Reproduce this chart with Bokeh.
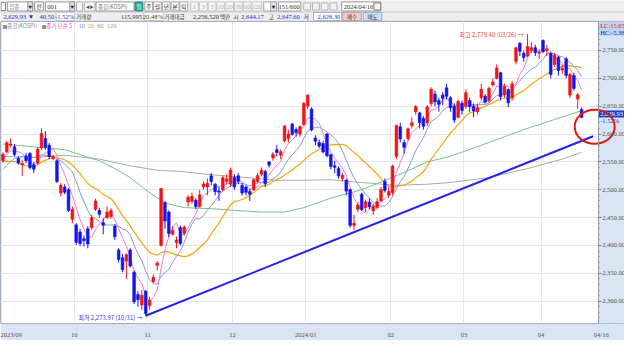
import numpy as np
import pandas as pd
from bokeh.plotting import figure
from bokeh.layouts import column
from bokeh.models import Range1d, FixedTicker, NumeralTickFormatter, ColumnDataSource
from bokeh.core.properties import value
from bokeh.embed import file_html
from bokeh.resources import INLINE

KR = "Noto Sans CJK KR"
NUM = "Liberation Sans Narrow"

# ---------------- data (KOSPI daily, 2023/09/01 - 2024/04/16) ----------------
month_labels = ["2023/09", "10", "11", "12", "2024/01", "02", "03", "04"]
month_start_idx = [0, 19, 38, 60, 79, 101, 120, 140]
last_date_label = "04/16"

aug_closes = [2602.80, 2580.71, 2573.98, 2605.12, 2601.56, 2591.26, 2570.87, 2525.64,
              2519.85, 2504.50, 2508.80, 2515.70, 2505.50, 2537.68, 2519.14, 2543.41,
              2552.16, 2561.22, 2556.27]

opens = [
    2552, 2568, 2580, 2577, 2556, 2545, 2560, 2565, 2545, 2548, 2575, 2592, 2580, 2556, 2552, 2494, 2505, 2500, 2447,
    2437, 2424, 2412, 2430, 2432, 2465, 2463, 2441, 2450, 2452, 2435, 2392, 2378, 2372, 2392, 2352, 2312, 2293, 2318,
    2292, 2335, 2364, 2400, 2477, 2460, 2420, 2405, 2432, 2422, 2478, 2479, 2481, 2470, 2505, 2505, 2525, 2510, 2498, 2500, 2515, 2510,
    2522, 2525, 2508, 2505, 2497, 2500, 2515, 2528, 2533, 2550, 2557, 2572, 2562, 2588, 2592, 2618, 2608, 2600, 2617,
    2650, 2645, 2593, 2585, 2583, 2600, 2563, 2543, 2538, 2520, 2517, 2500, 2436, 2465, 2492, 2468, 2478, 2462, 2468, 2480, 2515, 2490,
    2495, 2560, 2613, 2585, 2592, 2615, 2640, 2638, 2628, 2620, 2655, 2672, 2660, 2670, 2683, 2665, 2650, 2630, 2655,
    2650, 2660, 2650, 2640, 2665, 2668, 2660, 2688, 2700, 2710, 2670, 2680, 2665, 2730, 2763, 2745, 2740, 2750, 2755, 2745,
    2768, 2750, 2745, 2725, 2738, 2715, 2735, 2670, 2705, 2663, 2644.17]
highs = [
    2567, 2588, 2592, 2582, 2560, 2553, 2566, 2568, 2550, 2576, 2610, 2605, 2584, 2563, 2555, 2512, 2510, 2503, 2470,
    2440, 2430, 2418, 2435, 2455, 2484, 2468, 2449, 2470, 2467, 2438, 2395, 2385, 2386, 2395, 2355, 2318, 2320, 2320,
    2308, 2348, 2372, 2503, 2480, 2463, 2435, 2416, 2436, 2436, 2490, 2495, 2485, 2500, 2515, 2520, 2530, 2512, 2505, 2525, 2528, 2540,
    2528, 2530, 2512, 2508, 2502, 2520, 2530, 2540, 2536, 2552, 2568, 2580, 2572, 2616, 2608, 2620, 2612, 2615, 2657,
    2672, 2648, 2598, 2590, 2588, 2602, 2565, 2552, 2542, 2530, 2520, 2502, 2455, 2478, 2495, 2482, 2485, 2475, 2485, 2505, 2520, 2505,
    2545, 2617, 2620, 2590, 2612, 2630, 2652, 2640, 2632, 2652, 2684, 2678, 2665, 2675, 2690, 2668, 2655, 2662, 2660,
    2680, 2665, 2655, 2655, 2690, 2672, 2685, 2700, 2725, 2712, 2690, 2682, 2695, 2757, 2765, 2750, 2779.40, 2765, 2760, 2752,
    2770, 2760, 2748, 2745, 2740, 2725, 2738, 2710, 2710, 2674, 2647.60]
lows = [
    2548, 2566, 2576, 2560, 2545, 2525, 2548, 2536, 2530, 2545, 2572, 2572, 2555, 2553, 2512, 2488, 2492, 2460, 2440,
    2401, 2399, 2398, 2395, 2428, 2462, 2450, 2420, 2448, 2448, 2410, 2370, 2352, 2340, 2360, 2295, 2290, 2285, 2273.97,
    2285, 2333, 2355, 2398, 2430, 2415, 2418, 2395, 2400, 2418, 2470, 2475, 2465, 2468, 2500, 2490, 2508, 2490, 2480, 2497, 2510, 2505,
    2500, 2510, 2490, 2490, 2480, 2498, 2512, 2524, 2505, 2540, 2552, 2560, 2555, 2585, 2585, 2597, 2595, 2595, 2615,
    2645, 2605, 2580, 2575, 2565, 2558, 2537, 2530, 2520, 2515, 2490, 2432, 2428, 2460, 2462, 2460, 2465, 2455, 2465, 2478, 2495, 2485,
    2490, 2555, 2585, 2565, 2588, 2610, 2635, 2610, 2608, 2615, 2650, 2650, 2640, 2652, 2662, 2640, 2620, 2628, 2635,
    2645, 2640, 2630, 2635, 2660, 2655, 2656, 2685, 2698, 2660, 2665, 2648, 2660, 2725, 2740, 2730, 2738, 2745, 2740, 2735,
    2745, 2740, 2700, 2720, 2705, 2708, 2700, 2665, 2678, 2645, 2628.30]
closes = [
    2563.71, 2584.55, 2582.18, 2563.34, 2548.26, 2547.68, 2552.16, 2540.00, 2537.00, 2573.00, 2601.28, 2576.00, 2559.21, 2559.74, 2514.97, 2508.13, 2495.76, 2462.97, 2465.07,
    2405.69, 2403.60, 2408.73, 2402.58, 2450.08, 2479.82, 2456.15, 2436.24, 2460.17, 2462.60, 2415.80, 2375.00, 2357.02, 2383.51, 2363.17, 2299.08, 2302.81, 2310.55, 2277.99,
    2301.56, 2343.12, 2368.34, 2502.37, 2443.96, 2421.62, 2427.08, 2409.66, 2403.76, 2433.25, 2486.67, 2488.18, 2469.85, 2491.20, 2510.42, 2511.70, 2514.96, 2496.63, 2495.66, 2521.76, 2519.81, 2535.29,
    2505.01, 2514.95, 2494.28, 2495.38, 2492.07, 2517.85, 2525.36, 2535.02, 2510.66, 2544.18, 2563.56, 2566.86, 2568.55, 2614.30, 2600.02, 2599.51, 2602.59, 2613.50, 2655.28,
    2669.81, 2607.31, 2587.02, 2578.08, 2567.82, 2561.24, 2541.98, 2540.27, 2525.05, 2525.99, 2497.59, 2435.90, 2440.04, 2472.74, 2464.35, 2478.61, 2469.69, 2470.34, 2478.56, 2500.65, 2498.81, 2497.09,
    2542.46, 2615.31, 2591.31, 2576.20, 2609.58, 2620.32, 2649.64, 2620.42, 2613.80, 2648.76, 2680.26, 2657.79, 2653.31, 2664.27, 2667.70, 2647.08, 2625.05, 2658.63, 2642.36,
    2674.27, 2649.40, 2641.49, 2647.62, 2680.35, 2657.40, 2681.81, 2693.57, 2718.76, 2666.84, 2685.84, 2656.17, 2690.14, 2754.86, 2748.56, 2737.57, 2757.09, 2755.11, 2745.82, 2746.63,
    2747.86, 2753.16, 2706.97, 2742.00, 2714.21, 2717.65, 2705.16, 2706.96, 2681.82, 2670.43, 2629.93]

ma60_idx = [0, 8, 16, 20, 25, 29, 33, 37, 42, 47, 54, 60, 67, 73, 78, 85, 93, 102, 110, 116, 126, 135, 150]
ma60_val = [2582, 2577, 2572, 2563, 2552, 2538, 2522, 2500, 2476, 2468, 2466, 2463, 2460, 2460, 2468, 2485,
            2500, 2525, 2550, 2560, 2585, 2608, 2642]
ma120_idx = [0, 8, 16, 25, 33, 40, 46, 54, 63, 71, 77, 85, 93, 102, 110, 116, 126, 136, 145, 150]
ma120_val = [2560, 2558, 2562, 2555, 2543, 2535, 2533, 2527, 2522, 2517, 2517, 2518, 2513, 2508, 2510, 2513,
             2522, 2538, 2555, 2567]

trend_idx = [37, 153.0]
trend_val = [2273.97, 2596]

price_ticks = [2300, 2350, 2400, 2450, 2500, 2550, 2600, 2650, 2700, 2750]
last_change_pct = "-1.52%"
lc_text, hc_text = "LC:15.65", "HC:-5.38"

# ---------------- derived ----------------
n = len(closes)
idx = list(range(n))
allc = pd.Series(aug_closes + closes)
ma5 = allc.rolling(5).mean().iloc[len(aug_closes):].tolist()
ma10 = allc.rolling(10).mean().iloc[len(aug_closes):].tolist()
ma20 = allc.rolling(20).mean().iloc[len(aug_closes):].tolist()

UP, DOWN = "#f01414", "#1414f0"
colors = [UP if c >= o else DOWN for o, c in zip(opens, closes)]
src = ColumnDataSource(dict(
    x=idx, o=opens, h=highs, l=lows, c=closes,
    top=[max(o, c) for o, c in zip(opens, closes)],
    bot=[min(o, c) for o, c in zip(opens, closes)],
    color=colors))

# ---------------- header (UI strip) ----------------
hdr = figure(width=624, height=21, x_range=Range1d(0, 640), y_range=Range1d(22, 0),
             toolbar_location=None, output_backend="svg", min_border=0,
             x_axis_type=None, y_axis_type=None, outline_line_color=None,
             background_fill_color="#eeeeee", border_fill_color="#eeeeee")
boxes = []
def box(x0, x1, y0, y1, fill, line="#9a9a9a"):
    boxes.append((x0, x1, y0, y1, fill, line))
box(0.5, 5, 2, 10.5, "#ffffff", "#808080")
box(7, 33, 1.5, 11, "#ffffff"); box(28, 33, 1.5, 11, "#e2e2e2")
box(35, 44, 1.5, 11, "#f7f7f7")
box(46, 76, 1.5, 11, "#ffffff"); box(71, 76, 1.5, 11, "#e2e2e2")
box(78, 84, 1.5, 11, "#f7f7f7", "#b0b0b0")
box(86, 97, 1.5, 11, "#f7f7f7", "#b0b0b0")
box(98, 137, 1.5, 11, "#ffffff")
box(138, 146, 1.5, 11, "#2aa59a", "#1d8a80")
for k in range(5):
    box(148 + 9 * k, 156 + 9 * k, 1.5, 11, "#f9f9f9", "#a8a8a8")
for k in range(8):
    box(195 + 9 * k, 203 + 9 * k + (2 if k == 7 else 0), 1.5, 11, "#f4f4f4", "#c8c8c8")
box(270, 283, 1.5, 11, "#ffffff", "#a8a8a8"); box(277, 283, 1.5, 11, "#e2e2e2", "#a8a8a8")
box(285, 308, 1.5, 11, "#ffffff")
for k in range(4):
    box(311 + 9 * k, 318 + 9 * k, 2.5, 10, "#f2f2f2", "#b8b8b8")
box(350, 390, 1.5, 11, "#ffffff"); box(383, 390, 2.5, 10, "#f2f2f2", "#808080")
box(57, 76, 12.5, 21, "#ffffff", "#c8c8c8")
box(147, 167, 12.5, 21, "#ffffff", "#c8c8c8")
box(321, 350, 12.5, 21, "#ffffff", "#b0b0b0")
box(351, 370, 12.5, 21, "#f6cccc", "#cc9c9c")
box(372, 391, 12.5, 21, "#cfe0f4", "#9cb0cc")
hdr.segment(x0=[0, 0], y0=[12, 21.7], x1=[640, 640], y1=[12, 21.7], line_color="#c8c8c8", line_width=1)
hdr.quad(left=[b[0] for b in boxes], right=[b[1] for b in boxes], top=[b[2] for b in boxes],
         bottom=[b[3] for b in boxes], fill_color=[b[4] for b in boxes],
         line_color=[b[5] for b in boxes], line_width=1)

texts = []
def t(x, y, s, color="#333333", align="left", size="6px", font=KR):
    texts.append((x, y, s, color, align, size, font))
BL = "#1530d8"
t(9, 6.5, "업종", "#8a8a8a", size="5.5px"); t(30.5, 6.5, "▼", "#333333", "center", "4px")
t(39.5, 6.5, "전", "#333333", "center", "5.5px")
t(48, 6.5, "001", font=NUM, size="6.5px"); t(73.5, 6.5, "▼", "#333333", "center", "4px")
t(91.5, 6.5, "◀▶", "#555555", "center", "4px")
t(100, 6.5, "종합(KOSPI)", "#777777", size="5.5px")
t(142, 6.5, "일", "#ffffff", "center", "5.5px")
for k, s in enumerate(["주", "월", "년", "분", "틱"]):
    t(152 + 9 * k, 6.5, s, "#333333", "center", "5.5px")
for k, s in enumerate(["1", "3", "5", "10", "20", "30", "60", "120"]):
    t(199 + 9 * k + (1 if k == 7 else 0), 6.5, s, "#b0b0b0", "center", "6px", NUM)
t(280, 6.5, "▼", "#333333", "center", "4px")
t(307, 6.5, "151/600", "#333333", "right", "6.5px", NUM)
t(352, 6.5, "2024/04/16", "#333333", "left", "6.5px", NUM)
t(3, 16.8, "2,629.93 ▼", BL, size="6.5px", font=NUM)
t(55, 16.8, "40.50", BL, "right", "6.5px", NUM)
t(75.5, 16.8, "-1.52%", BL, "right", "6.5px", NUM)
t(77.5, 16.8, "거래량", size="5.5px")
t(145, 16.8, "115,995", "#333333", "right", "6.5px", NUM)
t(166.5, 16.8, "20.48%", "#333333", "right", "6.5px", NUM)
t(168, 16.8, "거래대금", size="5.5px")
t(224, 16.8, "2,256,520", "#333333", "right", "6.5px", NUM)
t(225, 16.8, "백만", size="5.5px")
t(239, 16.8, "시", size="5.5px")
t(270, 16.8, "2,644.17", BL, "right", "6.5px", NUM)
t(275, 16.8, "고", size="5.5px")
t(307, 16.8, "2,647.60", BL, "right", "6.5px", NUM)
t(311, 16.8, "저", size="5.5px")
t(348.5, 16.8, "2,628.30", BL, "right", "6.5px", NUM)
t(360.5, 16.8, "매수", "#333333", "center", "5.5px")
t(381.5, 16.8, "매도", "#333333", "center", "5.5px")
groups = {}
for q in texts:
    groups.setdefault((q[4], q[5], q[6]), []).append(q)
for (align, size, font), sel in groups.items():
    hdr.text(x=[q[0] for q in sel], y=[q[1] for q in sel], text=[q[2] for q in sel],
             text_color=[q[3] for q in sel], text_align=align, text_baseline="middle",
             text_font=value(font), text_font_size=size)

# ---------------- main chart ----------------
# data area = reference frame 0..613 px; the price panel (613..640 px) lives inside the frame
X0, X1 = -0.63, 154.3
X1P = X0 + (X1 - X0) * 640.0 / 613.0
Y0, Y1 = 2260, 2802
W, H, BB = 624, 319, 9
PANEL = "#d9e5f2"
def xr(ref_px):   # reference px (0..640) -> x data
    return X0 + ref_px * (X1 - X0) / 613.0
def ppx(npx):     # n reference px expressed in price units
    return npx * (Y1 - Y0) / 325.0
def yr(ref_py):   # reference px from frame top -> y data
    return Y1 - ppx(ref_py)

p = figure(width=W, height=H, x_range=Range1d(X0, X1P), y_range=Range1d(Y0, Y1),
           y_axis_location="right", toolbar_location=None, output_backend="svg",
           min_border_left=0, min_border_top=0, min_border_right=0, min_border_bottom=BB,
           background_fill_color="#ffffff", border_fill_color=PANEL,
           outline_line_color="#a4b0c0")

p.xgrid.grid_line_color = "#e6e6e6"
p.ygrid.grid_line_color = "#e6e6e6"

p.line(ma120_idx, ma120_val, line_color="#a9a9a9", line_width=1)
p.line(ma60_idx, ma60_val, line_color="#74c486", line_width=1)
p.line(idx, ma20, line_color="#f2a60c", line_width=1.2)
p.line(idx, ma10, line_color="#8797dc", line_width=1)
p.line(idx, ma5, line_color="#f27ccb", line_width=1)

p.segment(x0="x", y0="l", x1="x", y1="h", line_color="color", line_width=1, source=src)
p.vbar(x="x", width=0.7, top="top", bottom="bot", fill_color="color", line_color="color",
       line_width=0.6, source=src)

p.line(trend_idx, trend_val, line_color="#2323f0", line_width=2)

# price panel on the right
p.quad(left=[X1], right=[X1P], top=[Y1], bottom=[Y0], fill_color=PANEL, line_color=None)
p.quad(left=[X1], right=[X1P], top=[yr(0.5)], bottom=[yr(15.5)], fill_color="#c3d3ee",
       line_color=None)
p.text(x=[xr(615), xr(615)], y=[yr(4.5), yr(11.5)], text=[lc_text, hc_text],
       text_color=["#e02020", "#2030d0"], text_font=value(NUM), text_font_size="6.5px",
       text_baseline="middle")
last = closes[-1]
p.quad(left=[X1], right=[X1P], top=[last + ppx(7.5)], bottom=[last], fill_color="#1c3ccc",
       line_color=None)
p.text(x=[xr(615)], y=[last + ppx(3.7)], text=[f"{last:,.2f}"], text_color="#ffffff",
       text_font=value(NUM), text_font_size="6.5px", text_baseline="middle")
p.text(x=[xr(615)], y=[last - ppx(3.5)], text=[last_change_pct], text_color="#2030d0",
       text_font=value(NUM), text_font_size="6.5px", text_baseline="middle")

# price axis drawn at the panel edge
p.yaxis.fixed_location = X1
p.yaxis.ticker = FixedTicker(ticks=price_ticks, minor_ticks=list(range(2270, 2800, 10)))
p.yaxis.formatter = NumeralTickFormatter(format="0,0.00")
p.yaxis.major_label_text_font = NUM
p.yaxis.major_label_text_font_size = "6.5px"
p.yaxis.major_label_text_color = "#555555"
p.yaxis.axis_line_color = "#8c98a6"
p.yaxis.major_tick_line_color = "#7a8694"
p.yaxis.minor_tick_line_color = "#7a8694"
p.yaxis.major_tick_in = 0
p.yaxis.major_tick_out = 3
p.yaxis.minor_tick_in = 0
p.yaxis.minor_tick_out = 1
p.yaxis.major_label_standoff = 1

# date axis (month starts, plus the last date under the price panel)
tick_pos = [s - 0.5 for s in month_start_idx] + [X1 + 0.8]
p.xaxis.ticker = FixedTicker(ticks=tick_pos)
p.xaxis.major_label_overrides = {tp: lab for tp, lab in zip(tick_pos, month_labels + [last_date_label])}
p.xaxis.major_label_text_font = NUM
p.xaxis.major_label_text_font_size = "6.5px"
p.xaxis.major_label_text_color = "#555555"
p.xaxis.major_label_text_align = "left"
p.xaxis.major_label_standoff = 1
p.xaxis.axis_line_color = None
p.xaxis.major_tick_line_color = None
p.xaxis.minor_tick_line_color = None

# legend row
leg = [(2, "■", "#909090", "5px", KR), (7, "종합(KOSPI)", "#8a8a8a", "5.5px", KR),
       (42, "■", "#909090", "5px", KR), (47, "종가 단순 5", "#f04cb0", "5.5px", KR),
       (80, "10", "#6f7fe0", "6.5px", NUM), (89.5, "20", "#eea400", "6.5px", NUM),
       (99, "60", "#4cb864", "6.5px", NUM), (109, "120", "#9a9a9a", "6.5px", NUM)]
for px, s, col, size, font in leg:
    p.text(x=[xr(px)], y=[yr(4.5)], text=[s], text_color=col, text_font=value(font),
           text_font_size=size, text_baseline="middle", text_align="left")

# high / low notes
hi_i = int(np.argmax(highs)); lo_i = int(np.argmin(lows))
p.text(x=[hi_i - 1.0], y=[highs[hi_i]], text=[f"최고 {highs[hi_i]:,.2f} (03/26) →"],
       text_color="#f03c3c", text_font=value(KR), text_font_size="6px",
       text_align="right", text_baseline="middle")
p.text(x=[lo_i - 0.8], y=[lows[lo_i] - 3], text=[f"최저 {lows[lo_i]:,.2f} (10/31) →"],
       text_color="#3535d8", text_font=value(KR), text_font_size="6px",
       text_align="right", text_baseline="middle")

# red circle drawn around the last candle
p.ellipse(x=[n - 1 + 3.4], y=[last - ppx(10)], width=40, height=34, width_units="screen",
          height_units="screen", fill_color=None, line_color="#e01818", line_width=2)

layout = column(hdr, p, spacing=0)
open("out.html", "w").write(file_html(layout, INLINE))
